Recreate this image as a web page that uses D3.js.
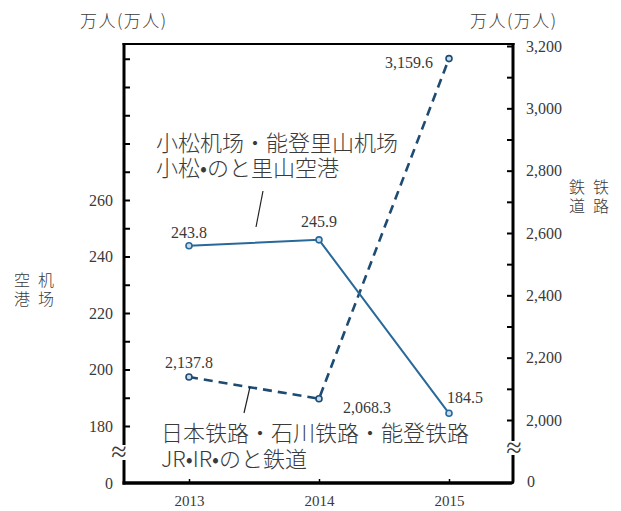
<!DOCTYPE html>
<html><head><meta charset="utf-8">
<script src="https://cdn.jsdelivr.net/npm/d3@7/dist/d3.min.js"></script>
<style>
body{margin:0;background:#fff;}
text.num{font-family:"Liberation Serif","Times New Roman",serif !important;font-size:16px;fill:#3a3a3a;}
text.cjk{font-family:"Noto Sans CJK JP","Noto Sans CJK SC",sans-serif;fill:#3a3a3a;font-weight:300;}
</style></head>
<body>
<svg id="c" width="621" height="511"></svg>
<script>
const years = [2013, 2014, 2015];
const airport = [243.8, 245.9, 184.5];
const rail = [2137.8, 2068.3, 3159.6];
const airportLabels = ["243.8", "245.9", "184.5"];
const railLabels = ["2,137.8", "2,068.3", "3,159.6"];
const leftTicks = d3.range(180, 311, 10);
const rightTicks = d3.range(2000, 3201, 100);

const svg = d3.select("#c");
const L = 124, R = 513, T = 44, B = 483;

const x = d3.scaleLinear().domain([2013, 2015]).range([189, 449]);
const yL = d3.scaleLinear().domain([180, 260]).range([426, 200]);
const yR = d3.scaleLinear().domain([2000, 3200]).range([420, 46]);

function styleAxis(g) {
  g.attr("font-family", null).attr("font-size", null);
  g.select(".domain").remove();
  g.selectAll("line").attr("stroke", "#000");
  g.selectAll("text").attr("class", "num").attr("fill", "#3a3a3a");
}

// left axis ticks + labels
const gL = svg.append("g").attr("transform", `translate(${L},0)`)
  .call(d3.axisLeft(yL).tickValues(leftTicks).tickSizeInner(-6).tickSizeOuter(0).tickPadding(11)
    .tickFormat(d => (d % 20 === 0 && d <= 260) ? d : ""));
styleAxis(gL);
gL.selectAll("line").attr("stroke-width", 2);

// right axis
const gR = svg.append("g").attr("transform", `translate(${R},0)`)
  .call(d3.axisRight(yR).tickValues(rightTicks).tickSizeInner(-6).tickSizeOuter(0).tickPadding(13)
    .tickFormat(d => d % 200 === 0 ? d3.format(",")(d) : ""));
styleAxis(gR);
gR.selectAll("line").attr("stroke-width", 2);

// bottom axis ticks
const gB = svg.append("g").attr("transform", `translate(0,${B})`)
  .call(d3.axisBottom(x).tickValues(years).tickSizeInner(-4).tickSizeOuter(0).tickPadding(12).tickFormat(d3.format("d")));
styleAxis(gB);
gB.selectAll("line").attr("stroke-width", 1.5);
gB.selectAll("text").style("font-size", "15px");

// frame with breaks
const frame = svg.append("g").attr("stroke", "#000").attr("fill", "none");
frame.append("line").attr("x1", L - 1.5).attr("x2", R + 1.5).attr("y1", T).attr("y2", T).attr("stroke-width", 2.2);
frame.append("line").attr("x1", L).attr("x2", L).attr("y1", T - 1).attr("y2", 445).attr("stroke-width", 3);
frame.append("line").attr("x1", L).attr("x2", L).attr("y1", 460).attr("y2", B + 1.5).attr("stroke-width", 3);
frame.append("line").attr("x1", R).attr("x2", R).attr("y1", T - 1).attr("y2", 441).attr("stroke-width", 3);
frame.append("path").attr("d", `M${R},455 L${R},${B - 2} Q${R},${B} ${R - 2},${B}`).attr("stroke-width", 3);
frame.append("line").attr("x1", L - 1.5).attr("x2", R - 1.5).attr("y1", B).attr("y2", B).attr("stroke-width", 3.5);

svg.append("text").attr("class", "num").attr("x", 119).attr("y", 461).attr("text-anchor", "middle").style("font-size", "28px").text("≈");
svg.append("text").attr("class", "num").attr("x", 514).attr("y", 457).attr("text-anchor", "middle").style("font-size", "28px").text("≈");
svg.append("text").attr("class", "num").attr("x", 113).attr("y", 489).attr("text-anchor", "end").text("0");
svg.append("text").attr("class", "num").attr("x", 527).attr("y", 487).text("0");

// unit titles
svg.append("text").attr("class", "cjk").attr("x", 80).attr("y", 27).style("font-size", "17px").attr("letter-spacing", "1.5px").text("万人(万人)");
svg.append("text").attr("class", "cjk").attr("x", 470).attr("y", 27).style("font-size", "17px").attr("letter-spacing", "1.5px").text("万人(万人)");

// vertical axis names
[["空", 14, 286], ["机", 38, 286], ["港", 14, 305], ["场", 38, 305]].forEach(d =>
  svg.append("text").attr("class", "cjk").attr("x", d[1]).attr("y", d[2]).style("font-size", "16px").text(d[0]));
[["鉄", 569, 193], ["铁", 593, 193], ["道", 569, 212], ["路", 593, 212]].forEach(d =>
  svg.append("text").attr("class", "cjk").attr("x", d[1]).attr("y", d[2]).style("font-size", "16px").text(d[0]));

// lines
const lineA = d3.line().x((d, i) => x(years[i])).y(d => yL(d));
const lineR = d3.line().x((d, i) => x(years[i])).y(d => yR(d));
svg.append("path").attr("d", lineR(rail)).attr("fill", "none").attr("stroke", "#1d4b72").attr("stroke-width", 2.6).attr("stroke-dasharray", "9,6");
svg.append("path").attr("d", lineA(airport)).attr("fill", "none").attr("stroke", "#28699a").attr("stroke-width", 2);

svg.selectAll(".mr").data(rail).enter().append("circle")
  .attr("cx", (d, i) => x(years[i])).attr("cy", d => yR(d)).attr("r", 3)
  .attr("fill", "#c7dcee").attr("stroke", "#1d4b72").attr("stroke-width", 1.6);
svg.selectAll(".ma").data(airport).enter().append("circle")
  .attr("cx", (d, i) => x(years[i])).attr("cy", d => yL(d)).attr("r", 3)
  .attr("fill", "#c7dcee").attr("stroke", "#28699a").attr("stroke-width", 1.6);

// data labels
const aOff = [[0, -8, "middle"], [0, -13, "middle"], [16, -10, "middle"]];
airport.forEach((d, i) => svg.append("text").attr("class", "num")
  .attr("x", x(years[i]) + aOff[i][0]).attr("y", yL(d) + aOff[i][1]).attr("text-anchor", aOff[i][2]).text(airportLabels[i]));
const rOff = [[0, -9, "middle"], [48, 14, "middle"], [-16, 9, "end"]];
rail.forEach((d, i) => svg.append("text").attr("class", "num")
  .attr("x", x(years[i]) + rOff[i][0]).attr("y", yR(d) + rOff[i][1]).attr("text-anchor", rOff[i][2]).text(railLabels[i]));

// annotations
svg.append("text").attr("class", "cjk").attr("x", 156).attr("y", 151).style("font-size", "22px").text("小松机场・能登里山机场");
svg.append("text").attr("class", "cjk").attr("x", 156).attr("y", 176).style("font-size", "22px").text("小松•のと里山空港");
svg.append("line").attr("x1", 263).attr("y1", 191).attr("x2", 256).attr("y2", 227).attr("stroke", "#222").attr("stroke-width", 1.2);
svg.append("text").attr("class", "cjk").attr("x", 161).attr("y", 441).style("font-size", "22px").text("日本铁路・石川铁路・能登铁路");
svg.append("text").attr("class", "cjk").attr("x", 161).attr("y", 467).style("font-size", "22px").text("JR•IR•のと鉄道");
svg.append("line").attr("x1", 250).attr("y1", 387).attr("x2", 244).attr("y2", 413).attr("stroke", "#222").attr("stroke-width", 1.2);
</script>
</body></html>
